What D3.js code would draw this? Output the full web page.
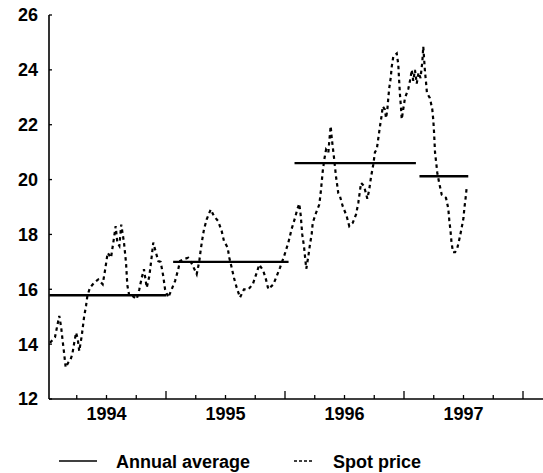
<!DOCTYPE html>
<html>
<head>
<meta charset="utf-8">
<script src="https://cdn.jsdelivr.net/npm/d3@7"></script>
<style>
  body { margin: 0; background: #fff; }
  .chart-font-family { font-family: 'Liberation Sans', Arial, Helvetica, sans-serif; font-weight: bold; font-size: 18px; }
</style>
</head>
<body>
<div id="chart-container"></div>
<script>
const yTicks = [12, 14, 16, 18, 20, 22, 24, 26];
const yearLabels = ['1994', '1995', '1996', '1997'];
const legendLabels = ['Annual average', 'Spot price'];

// annual averages, each drawn from its start to its end (decimal years)
const avgValues = [15.78, 17.0, 20.6, 20.12];
const avgStart = [1994.02, 1995.06, 1996.08, 1997.13];
const avgEnd = [1995.0, 1996.03, 1997.1, 1997.54];

// spot price (decimal year, price)
const spotDates = [
  1994.025, 1994.067, 1994.103, 1994.118, 1994.132, 1994.143, 1994.157, 1994.179, 1994.199, 1994.213,
  1994.227, 1994.244, 1994.258, 1994.271, 1994.292, 1994.311, 1994.328, 1994.339, 1994.361, 1994.397,
  1994.431, 1994.468, 1994.487, 1994.510, 1994.538, 1994.557, 1994.577, 1994.591, 1994.608, 1994.624,
  1994.647, 1994.664, 1994.675, 1994.692, 1994.720, 1994.754, 1994.776, 1994.796, 1994.815, 1994.838,
  1994.860, 1994.880, 1994.893, 1994.916, 1994.935, 1994.955, 1994.977, 1994.992, 1995.019, 1995.048,
  1995.076, 1995.103, 1995.118, 1995.151, 1995.187, 1995.221, 1995.258, 1995.280, 1995.292, 1995.305,
  1995.319, 1995.342, 1995.376, 1995.403, 1995.439, 1995.468, 1995.487, 1995.518, 1995.532, 1995.552,
  1995.571, 1995.594, 1995.622, 1995.655, 1995.692, 1995.729, 1995.762, 1995.784, 1995.818, 1995.840,
  1995.860, 1995.902, 1995.930, 1995.958, 1995.992, 1996.028, 1996.056, 1996.084, 1996.103, 1996.120,
  1996.132, 1996.145, 1996.160, 1996.168, 1996.179, 1996.196, 1996.210, 1996.224, 1996.233, 1996.261,
  1996.288, 1996.300, 1996.308, 1996.317, 1996.330, 1996.345, 1996.364, 1996.372, 1996.384, 1996.392,
  1996.401, 1996.412, 1996.429, 1996.448, 1996.462, 1996.485, 1996.518, 1996.540, 1996.569, 1996.597,
  1996.616, 1996.639, 1996.664, 1996.692, 1996.708, 1996.723, 1996.742, 1996.756, 1996.771, 1996.784,
  1996.798, 1996.813, 1996.821, 1996.840, 1996.849, 1996.860, 1996.868, 1996.876, 1996.888, 1996.897,
  1996.910, 1996.939, 1996.952, 1996.958, 1996.966, 1996.975, 1996.981, 1997.008, 1997.036, 1997.055,
  1997.065, 1997.078, 1997.092, 1997.107, 1997.122, 1997.139, 1997.154, 1997.162, 1997.176, 1997.185,
  1997.193, 1997.218, 1997.238, 1997.246, 1997.252, 1997.261, 1997.271, 1997.280, 1997.297, 1997.317,
  1997.353, 1997.372, 1997.381, 1997.391, 1997.399, 1997.412, 1997.429, 1997.448, 1997.471, 1997.487,
  1997.500, 1997.507, 1997.517, 1997.527,
];
const spotValues = [
  14.05, 14.25, 15.03, 14.65, 14.1, 13.7, 13.15, 13.33, 13.45, 13.64,
  14.0, 14.42, 14.2, 13.75, 14.3, 14.97, 15.4, 15.75, 16.06, 16.24,
  16.36, 16.18, 16.67, 17.33, 17.15, 17.7, 18.3, 17.7, 17.58, 18.36,
  17.7, 16.97, 16.15, 15.75, 15.75, 15.64, 16.0, 16.42, 16.73, 16.06,
  16.48, 17.2, 17.7, 17.33, 17.03, 17.0, 16.48, 16.0, 15.7, 16.0,
  16.3, 16.73, 17.03, 17.1, 17.15, 16.9, 16.55, 17.03, 17.45, 17.82,
  18.18, 18.55, 18.91, 18.67, 18.48, 18.12, 17.76, 17.52, 17.15, 16.79,
  16.42, 16.06, 15.7, 16.0, 16.0, 16.18, 16.6, 16.9, 16.67, 16.36,
  16.0, 16.18, 16.48, 16.79, 17.2, 17.7, 18.2, 18.6, 18.91, 19.12,
  18.7, 18.0, 17.55, 17.2, 16.75, 17.2, 17.64, 18.0, 18.42, 18.79,
  19.09, 19.52, 19.88, 20.3, 20.73, 21.09, 20.97, 21.4, 21.95, 21.55,
  21.2, 20.79, 20.1, 19.5, 19.39, 19.03, 18.67, 18.3, 18.42, 18.73,
  19.15, 19.88, 19.76, 19.3, 19.64, 20.1, 20.55, 21.0, 21.1, 21.5,
  21.94, 22.36, 22.67, 22.55, 22.24, 22.55, 22.97, 23.33, 23.7, 24.12,
  24.48, 24.6, 24.2, 23.7, 23.1, 22.6, 22.2, 22.97, 23.3, 23.7,
  24.0, 23.6, 24.0, 23.5, 23.9, 23.7, 24.3, 24.85, 23.95, 23.55,
  23.15, 22.97, 22.55, 22.18, 21.76, 20.97, 20.6, 20.24, 19.85, 19.45,
  19.33, 18.95, 18.5, 18.12, 17.72, 17.35, 17.35, 17.5, 17.94, 18.3,
  18.6, 18.95, 19.3, 19.72,
];

const width = 543;
const height = 473;
const x = d3.scaleLinear().domain([1994, 1998]).range([47, 523]);
const y = d3.scaleLinear().domain([12, 26]).range([399, 15]);
const axisLeft = 49;
const axisBottom = y(12);

const svg = d3.select('#chart-container')
  .append('svg')
  .attr('width', width)
  .attr('height', height);

/* Method to draw the y axis with its inward ticks and labels
   Params: @svg is the svg element being used to draw
*/
function AppendYAxis(svg) {
  const axis = svg.append('g').classed('y-axis chart-font-family', true);
  axis.append('line')
    .attr('x1', axisLeft).attr('x2', axisLeft)
    .attr('y1', y(26)).attr('y2', axisBottom)
    .attr('stroke', '#000').attr('stroke-width', 1.6);
  yTicks.forEach((tick) => {
    axis.append('line')
      .attr('x1', axisLeft).attr('x2', axisLeft + 3)
      .attr('y1', y(tick)).attr('y2', y(tick))
      .attr('stroke', '#000').attr('stroke-width', 1.3);
    axis.append('text')
      .attr('x', 38)
      .attr('y', y(tick))
      .attr('dy', '0.36em')
      .attr('text-anchor', 'end')
      .text(tick);
  });
}

/* Method to draw the x axis, quarter ticks pointing up and the year labels
   Params: @svg is the svg element being used to draw
*/
function AppendXAxis(svg) {
  const axis = svg.append('g').classed('x-axis chart-font-family', true);
  axis.append('line')
    .attr('x1', axisLeft).attr('x2', width)
    .attr('y1', axisBottom).attr('y2', axisBottom)
    .attr('stroke', '#000').attr('stroke-width', 1.6);
  d3.range(1, 17).forEach((q) => {
    const isYear = q % 4 === 0;
    const tx = x(1994 + q / 4);
    axis.append('line')
      .attr('x1', tx).attr('x2', tx)
      .attr('y1', axisBottom).attr('y2', axisBottom - (isYear ? 8 : 4))
      .attr('stroke', '#000').attr('stroke-width', 1.3);
  });
  yearLabels.forEach((label) => {
    axis.append('text')
      .attr('x', x(+label + 0.5))
      .attr('y', 420)
      .attr('text-anchor', 'middle')
      .text(label);
  });
}

function AppendAverageLines(svg) {
  avgValues.forEach((value, i) => {
    svg.append('line')
      .classed('annual-average', true)
      .attr('x1', x(avgStart[i])).attr('x2', x(avgEnd[i]))
      .attr('y1', y(value)).attr('y2', y(value))
      .attr('stroke', '#000').attr('stroke-width', 2.4);
  });
}

function AppendSpotLine(svg) {
  const line = d3.line()
    .x((d) => x(d[0]))
    .y((d) => y(d[1]))
    .curve(d3.curveLinear);
  svg.append('path')
    .classed('spot-price', true)
    .datum(spotDates.map((d, i) => [d, spotValues[i]]))
    .attr('d', line)
    .attr('fill', 'none')
    .attr('stroke', '#000')
    .attr('stroke-width', 2.2)
    .attr('stroke-dasharray', '3.5,3.5');
}

/* Method to append the legend under the chart
   Params: @svg is the svg element being used to draw
*/
function AppendLegend(svg) {
  const legend = svg.append('g').classed('legend chart-font-family', true);
  legend.append('line')
    .attr('x1', 59).attr('x2', 97).attr('y1', 461).attr('y2', 461)
    .attr('stroke', '#000').attr('stroke-width', 1.6);
  legend.append('text').attr('x', 116).attr('y', 468).text(legendLabels[0]);
  legend.append('line')
    .attr('x1', 294).attr('x2', 312).attr('y1', 461).attr('y2', 461)
    .attr('stroke', '#000').attr('stroke-width', 1.6)
    .attr('stroke-dasharray', '3,2');
  legend.append('text').attr('x', 333).attr('y', 468).text(legendLabels[1]);
}

AppendYAxis(svg);
AppendXAxis(svg);
AppendAverageLines(svg);
AppendSpotLine(svg);
AppendLegend(svg);
</script>
</body>
</html>
